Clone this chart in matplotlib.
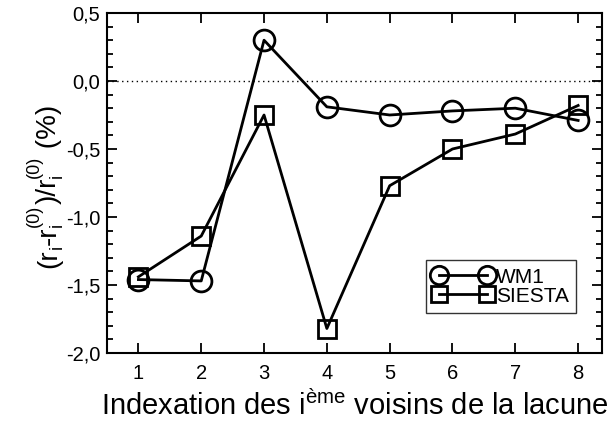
import matplotlib
matplotlib.use("Agg")
import matplotlib.pyplot as plt
from matplotlib.ticker import MultipleLocator, FuncFormatter
from matplotlib.transforms import IdentityTransform

x = [1, 2, 3, 4, 5, 6, 7, 8]
wm1 = [-1.46, -1.47, 0.30, -0.19, -0.25, -0.22, -0.20, -0.29]
siesta = [-1.44, -1.14, -0.25, -1.82, -0.77, -0.50, -0.39, -0.18]

plt.rcParams['font.family'] = ['Liberation Sans', 'DejaVu Sans']
plt.rcParams['mathtext.fontset'] = 'custom'
plt.rcParams['mathtext.rm'] = 'Liberation Sans'
plt.rcParams['mathtext.it'] = 'Liberation Sans'

fig = plt.figure(figsize=(6.15, 4.26), dpi=100)
ax = fig.add_axes([107/615, 1-353/426, (602-107)/615, (353-13)/426])

ax.axhline(0, color='black', lw=1, ls=(0, (1, 2.5)))
ax.plot(x, wm1, '-o', color='black', lw=2, ms=15, mew=2, mfc='none', label='WM1')
ax.plot(x, siesta, '-s', color='black', lw=2, ms=13, mew=2, mfc='none', label='SIESTA')

ax.set_xlim(0.5, 8.38)
ax.set_ylim(-2.0, 0.5)
ax.xaxis.set_major_locator(MultipleLocator(1))
ax.yaxis.set_major_locator(MultipleLocator(0.5))
ax.yaxis.set_minor_locator(MultipleLocator(0.1))
ax.yaxis.set_major_formatter(FuncFormatter(lambda v, p: f"{v:.1f}".replace('.', ',')))
ax.tick_params(which='both', direction='in', top=True, right=True, width=1.3, labelsize=14.5)
ax.tick_params(which='major', length=7)
ax.tick_params(which='minor', length=4)
ax.tick_params(axis='x', which='major', pad=8)
ax.tick_params(axis='y', which='major', pad=5)
for s in ax.spines.values():
    s.set_linewidth(1.5)

ax.set_xlabel(r'Indexation des i$^{ème}$ voisins de la lacune', fontsize=21, labelpad=5)

# y label composed piecewise (rotated), to mimic compact stacked scripts
renderer = fig.canvas.get_renderer()
main_fs, script_fs = 20, 13
x_base = 56.0
sub_dx, sup_dx = 6.0, -17.0
cursor = 426 - 268.0
pieces = [("(r", None), ("i", None), ("-r", None), ("i", "(0)"), (")/r", None), ("i", "(0)"), (" (%)", None)]
mains = {0, 2, 4, 6}
for k, (a, b) in enumerate(pieces):
    if k in mains:
        t = fig.text(x_base, cursor, a, fontsize=main_fs, rotation=90, rotation_mode='anchor',
                     ha='left', va='baseline', transform=IdentityTransform())
        cursor += t.get_window_extent(renderer).height
    else:
        t1 = fig.text(x_base + sub_dx, cursor, a, fontsize=script_fs, rotation=90, rotation_mode='anchor',
                      ha='left', va='baseline', transform=IdentityTransform())
        adv = t1.get_window_extent(renderer).height
        if b is not None:
            t2 = fig.text(x_base + sup_dx, cursor, b, fontsize=script_fs, rotation=90, rotation_mode='anchor',
                          ha='left', va='baseline', transform=IdentityTransform())
            adv = max(adv, t2.get_window_extent(renderer).height)
        cursor += adv

leg = ax.legend(loc='lower right', bbox_to_anchor=(0.947, 0.118), numpoints=2, handlelength=2.9,
                fontsize=15, markerscale=0.88, frameon=True, fancybox=False, edgecolor='black',
                borderpad=0.35, labelspacing=0.0, handletextpad=0.1, borderaxespad=0)
leg.get_frame().set_linewidth(1.0)

fig.savefig('out.png', dpi=100)
